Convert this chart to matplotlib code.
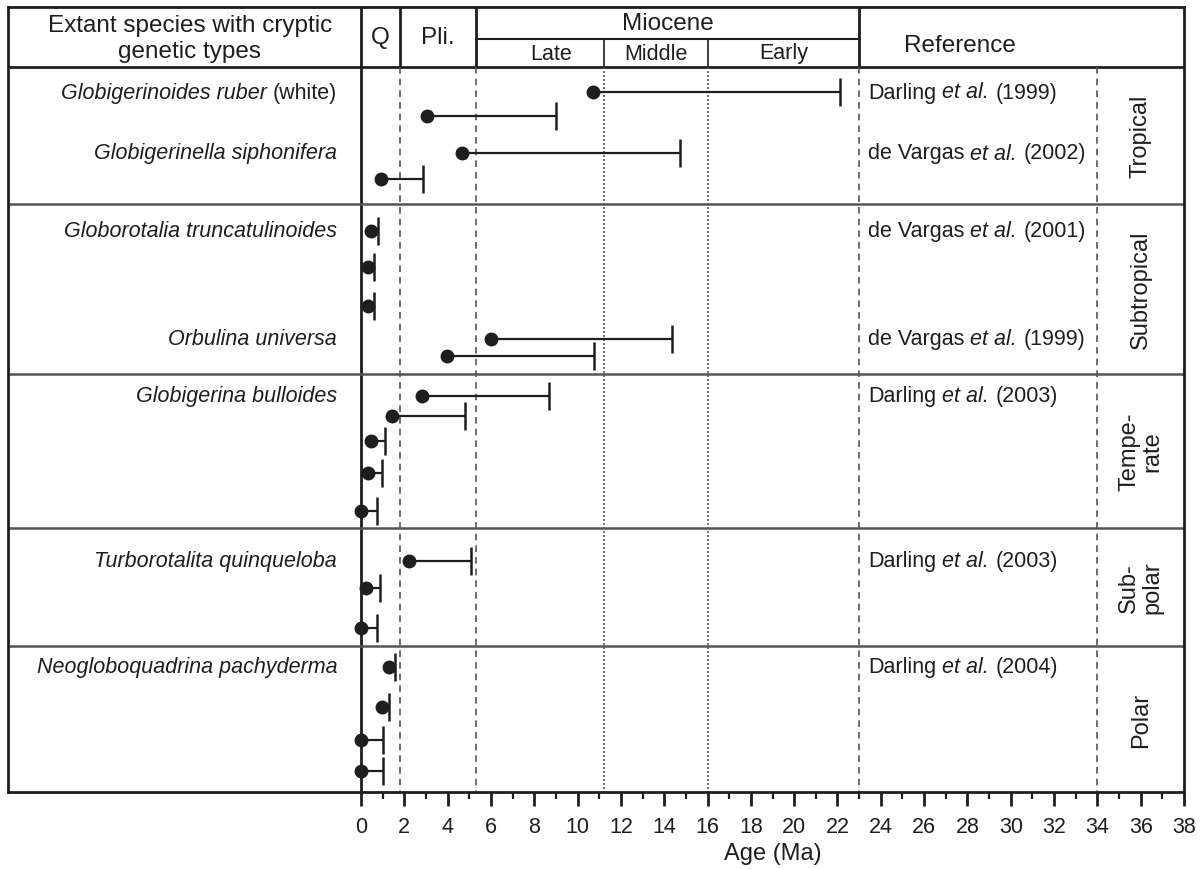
import matplotlib
matplotlib.use('Agg')
import matplotlib.pyplot as plt
from matplotlib.offsetbox import TextArea, HPacker, AnnotationBbox
import numpy as np

plt.rcParams['font.family'] = ['Liberation Sans', 'DejaVu Sans']

# ---- data ----
zones = ['Tropical', 'Subtropical', 'Tempe-\nrate', 'Sub-\npolar', 'Polar']

# species name (italic part, plain suffix) per row, '' = no label
species = ['Globigerinoides ruber', '', 'Globigerinella siphonifera', '',
           'Globorotalia truncatulinoides', '', '', 'Orbulina universa', '',
           'Globigerina bulloides', '', '', '', '',
           'Turborotalita quinqueloba', '', '',
           'Neogloboquadrina pachyderma', '', '', '']
species_note = ['(white)'] + [''] * 20

ref_author = ['Darling', '', 'de Vargas', '',
              'de Vargas', '', '', 'de Vargas', '',
              'Darling', '', '', '', '',
              'Darling', '', '',
              'Darling', '', '', '']
ref_year = ['1999', '', '2002', '',
            '2001', '', '', '1999', '',
            '2003', '', '', '', '',
            '2003', '', '',
            '2004', '', '', '']

# divergence age (dot) and upper bound (bar end), Ma
origin_ma = [10.7, 3.05, 4.65, 0.92,
             0.48, 0.3, 0.3, 6.0, 3.95,
             2.82, 1.44, 0.44, 0.3, 0.0,
             2.2, 0.25, 0.0,
             1.27, 0.95, 0.0, 0.0]
upper_ma = [22.1, 9.0, 14.75, 2.85,
            0.79, 0.58, 0.58, 14.36, 10.77,
            8.69, 4.82, 1.09, 0.95, 0.74,
            5.07, 0.88, 0.74,
            1.55, 1.27, 1.02, 1.02]

# epoch boundaries (Ma)
b_q_pli = 1.8
b_pli_mio = 5.3
b_late_mid = 11.2
b_mid_early = 16.0
b_mio_end = 23.0
b_ref_zone = 34.0

# ---- layout (vertical units ~ pixels from top) ----
row_y = [93, 117, 154, 180,
         232, 268, 307, 340, 357,
         397, 417, 442, 474, 512,
         562, 589, 629,
         668, 708, 741, 772]
zone_edges = [68, 205, 375, 529, 647, 793]
y_top, y_head_mid, y_head = 8, 40, 68
y_bot = 793
x_left, x_right = -16.3, 38.0
ink = '#1e1e1e'
grey = '#555555'
fs_row = 15.5
fs_head = 17.5

fig = plt.figure(figsize=(12.04, 8.70), dpi=100)
ax = fig.add_axes([8 / 1204, 1 - 793 / 870, 1176 / 1204, 785 / 870])
ax.set_xlim(x_left, x_right)
ax.set_ylim(y_bot, y_top)

for s in ax.spines.values():
    s.set_linewidth(2)
    s.set_color(ink)

ax.set_yticks([])
ax.set_xticks(np.arange(0, 39, 2))
ax.set_xticks(np.arange(0, 39, 1), minor=True)
ax.tick_params(axis='x', which='major', direction='out', length=10, width=2,
               color=ink, labelsize=15.5, pad=7, labelcolor=ink)
ax.tick_params(axis='x', which='minor', direction='out', length=5, width=1.6, color=ink)
ax.set_xlabel('Age (Ma)', fontsize=17, labelpad=4, color=ink)
# centre the axis title under the age scale only
ax.xaxis.label.set_x((19 - x_left) / (x_right - x_left))

# header lines
ax.axhline(y_head, color=ink, lw=2)
ax.plot([b_pli_mio, b_mio_end], [y_head_mid, y_head_mid], color=ink, lw=1.5)
for b in [0, b_q_pli, b_pli_mio, b_mio_end]:
    ax.plot([b, b], [y_top, y_head], color=ink, lw=2)
for b in [b_late_mid, b_mid_early]:
    ax.plot([b, b], [y_head_mid, y_head], color=ink, lw=1.2)

# body lines
ax.plot([0, 0], [y_head, y_bot], color=ink, lw=2)
for b in [b_q_pli, b_pli_mio, b_mio_end, b_ref_zone]:
    ax.plot([b, b], [y_head, y_bot], color=grey, lw=1.2, ls=(0, (4, 3)))
for b in [b_late_mid, b_mid_early]:
    ax.plot([b, b], [y_head, y_bot], color=grey, lw=1.2, ls=(0, (1.2, 1.2)))
for e in zone_edges[1:-1]:
    ax.axhline(e, color=grey, lw=1.8)

# header text
ax.text(x_left / 2 + 0.25, 39, 'Extant species with cryptic\ngenetic types', ha='center',
        va='center', fontsize=fs_head, linespacing=1.2, color=ink)
ax.text(b_q_pli / 2, 38, 'Q', ha='center', va='center', fontsize=fs_head, color=ink)
ax.text((b_q_pli + b_pli_mio) / 2, 38, 'Pli.', ha='center', va='center', fontsize=fs_head, color=ink)
ax.text((b_pli_mio + b_mio_end) / 2, 24, 'Miocene', ha='center', va='center', fontsize=fs_head, color=ink)
ax.text(8.8, 54, 'Late', ha='center', va='center', fontsize=15.5, color=ink)
ax.text((b_late_mid + b_mid_early) / 2, 54, 'Middle', ha='center', va='center', fontsize=15.5, color=ink)
ax.text((b_mid_early + b_mio_end) / 2, 54, 'Early', ha='center', va='center', fontsize=15.5, color=ink)
ax.text(27.65, 46, 'Reference', ha='center', va='center', fontsize=fs_head, color=ink)

# ranges
for y, o, u in zip(row_y, origin_ma, upper_ma):
    ax.plot([o, u], [y, y], color=ink, lw=1.6, solid_capstyle='butt', zorder=3)
    ax.plot([u, u], [y - 14, y + 14], color=ink, lw=1.8, solid_capstyle='butt', zorder=3)
    ax.plot(o, y, 'o', color=ink, ms=9, zorder=4, clip_on=False)


def mixed_label(x, y, parts, align):
    # parts: list of (text, italic)
    boxes = [TextArea(s, textprops=dict(fontsize=fs_row, color=ink,
                                        style='italic' if it else 'normal'))
             for s, it in parts]
    pack = HPacker(children=boxes, align='baseline', pad=0, sep=4.5)
    ab = AnnotationBbox(pack, (x, y), xycoords='data', frameon=False,
                        box_alignment=(align, 0.5), pad=0)
    ax.add_artist(ab)


# row labels: species (right aligned) and reference (left aligned)
for y, name, note, auth, yr in zip(row_y, species, species_note, ref_author, ref_year):
    if name:
        parts = [(name, True)]
        if note:
            parts.append((note, False))
        mixed_label(-1.1, y, parts, 1.0)
    if auth:
        mixed_label(23.4, y, [(auth, False), ('et al.', True), ('(' + yr + ')', False)], 0.0)

# climate zones
for k, z in enumerate(zones):
    yc = (zone_edges[k] + zone_edges[k + 1]) / 2
    ax.text(36.0, yc, z, rotation=90, ha='center', va='center', fontsize=17,
            color=ink, linespacing=1.05, multialignment='center')

fig.savefig('out.png', dpi=100)
